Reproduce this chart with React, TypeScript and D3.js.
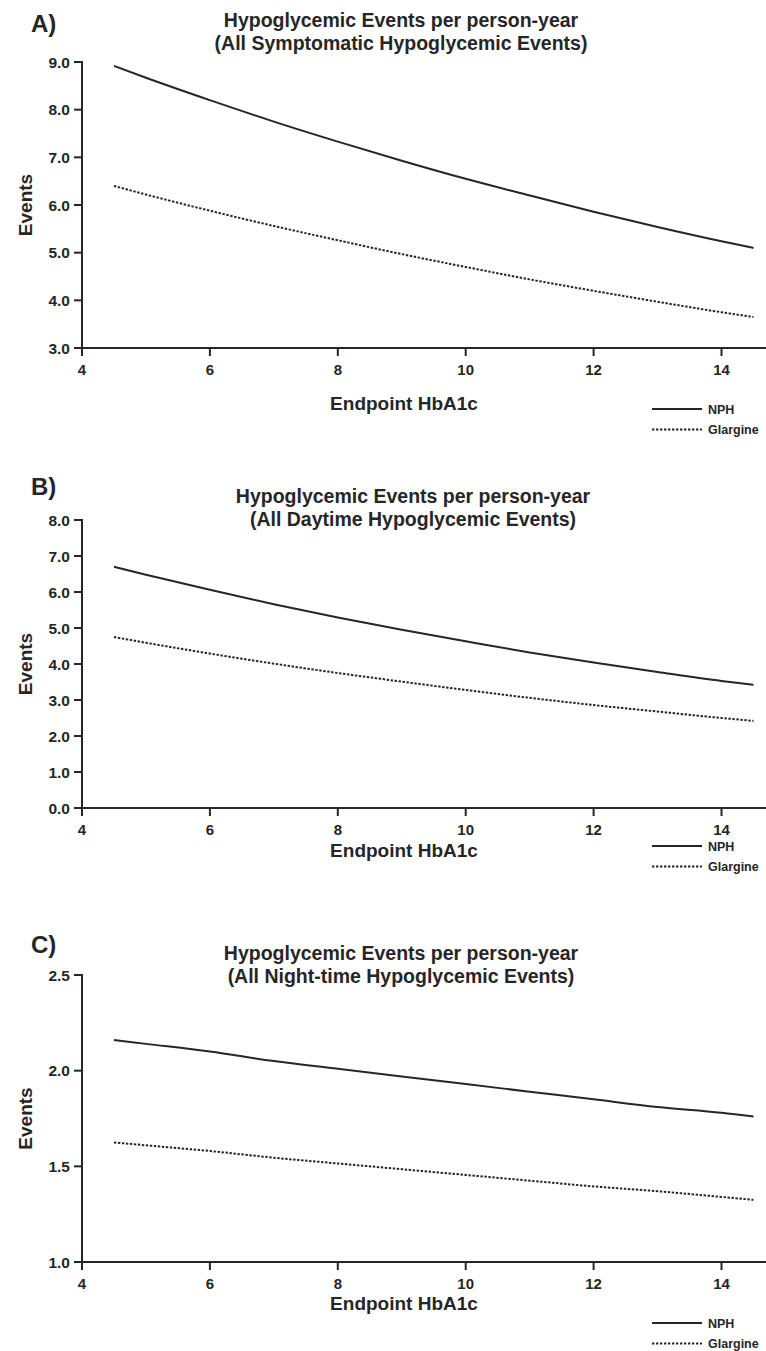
import React from "react";
import * as d3 from "d3";

const hba1c = [4.5, 5, 6, 7, 8, 9, 10, 11, 12, 13, 14, 14.5];

const nphA = [8.92, 8.67, 8.2, 7.75, 7.33, 6.93, 6.55, 6.2, 5.86, 5.54, 5.24, 5.1];
const glarA = [6.4, 6.22, 5.88, 5.56, 5.26, 4.97, 4.7, 4.44, 4.2, 3.97, 3.75, 3.65];
const nphB = [6.7, 6.48, 6.06, 5.66, 5.29, 4.95, 4.63, 4.32, 4.04, 3.78, 3.53, 3.42];
const glarB = [4.75, 4.59, 4.29, 4.01, 3.75, 3.51, 3.28, 3.06, 2.86, 2.68, 2.5, 2.42];
const nphC = [2.16, 2.14, 2.1, 2.05, 2.01, 1.97, 1.93, 1.89, 1.85, 1.81, 1.78, 1.76];
const glarC = [1.625, 1.61, 1.58, 1.545, 1.515, 1.485, 1.455, 1.425, 1.395, 1.37, 1.34, 1.325];

const xTicks = [4, 6, 8, 10, 12, 14];
const yTicksA = [3, 4, 5, 6, 7, 8, 9];
const yTicksB = [0, 1, 2, 3, 4, 5, 6, 7, 8];
const yTicksC = [1, 1.5, 2, 2.5];

const titleLine1 = "Hypoglycemic Events per person-year";
const subtitles = [
  "(All Symptomatic Hypoglycemic Events)",
  "(All Daytime Hypoglycemic Events)",
  "(All Night-time Hypoglycemic Events)",
];
const letters = ["A)", "B)", "C)"];
const seriesNames = ["NPH", "Glargine"];

const FONT = "Liberation Sans, Arial, sans-serif";
const INK = "#262626";

interface PanelProps {
  letter: string;
  subtitle: string;
  nph: number[];
  glar: number[];
  yDomain: [number, number];
  yRange: [number, number];
  yTicks: number[];
  letterY: number;
  titleY: number;
  titleX: number;
  xLabelDy: number;
  legendDy: number;
}

function Panel(p: PanelProps) {
  const x = d3.scaleLinear().domain([4, 14.68]).range([82, 765]);
  const y = d3.scaleLinear().domain(p.yDomain).range(p.yRange);
  const line = d3
    .line<number>()
    .x((_, i) => x(hba1c[i]))
    .y((d) => y(d))
    .curve(d3.curveMonotoneX);
  const y0 = p.yRange[0];
  const y1 = p.yRange[1];
  const x0 = x(4);
  const dash = "2.4,1.6";
  return (
    <g>
      <text x={31} y={p.letterY} fontFamily={FONT} fontWeight="bold" fontSize={24} fill={INK}>
        {p.letter}
      </text>
      <text x={p.titleX} y={p.titleY} textAnchor="middle" fontFamily={FONT} fontWeight="bold" fontSize={19.5} fill={INK}>
        {titleLine1}
      </text>
      <text x={p.titleX} y={p.titleY + 22.5} textAnchor="middle" fontFamily={FONT} fontWeight="bold" fontSize={19.5} fill={INK}>
        {p.subtitle}
      </text>
      <line x1={x0} x2={x0} y1={y1 - 1} y2={y0 + 8} stroke={INK} strokeWidth={2} />
      <line x1={x0} x2={766} y1={y0} y2={y0} stroke={INK} strokeWidth={2} />
      {p.yTicks.map((t) => (
        <g key={"y" + t}>
          <line x1={x0 - 8} x2={x0} y1={y(t)} y2={y(t)} stroke={INK} strokeWidth={2} />
          <text x={x0 - 12} y={y(t) + 5.5} textAnchor="end" fontFamily={FONT} fontWeight="bold" fontSize={15.5} fill={INK}>
            {t.toFixed(1)}
          </text>
        </g>
      ))}
      {xTicks.map((t) => (
        <g key={"x" + t}>
          <line x1={x(t)} x2={x(t)} y1={y0} y2={y0 + 8} stroke={INK} strokeWidth={2} />
          <text x={x(t)} y={y0 + 27} textAnchor="middle" fontFamily={FONT} fontWeight="bold" fontSize={15} fill={INK}>
            {t}
          </text>
        </g>
      ))}
      <text
        transform={`translate(32, ${(y0 + y1) / 2}) rotate(-90)`}
        textAnchor="middle"
        fontFamily={FONT}
        fontWeight="bold"
        fontSize={19}
        fill={INK}
      >
        Events
      </text>
      <text x={404} y={y0 + p.xLabelDy} textAnchor="middle" fontFamily={FONT} fontWeight="bold" fontSize={19} fill={INK}>
        Endpoint HbA1c
      </text>
      <path d={line(p.nph) || ""} fill="none" stroke={INK} strokeWidth={2} />
      <path d={line(p.glar) || ""} fill="none" stroke={INK} strokeWidth={2} strokeDasharray={dash} />
      <line x1={652} x2={702} y1={y0 + p.legendDy} y2={y0 + p.legendDy} stroke={INK} strokeWidth={2} />
      <text x={708} y={y0 + p.legendDy + 4.5} fontFamily={FONT} fontWeight="bold" fontSize={12.5} fill={INK}>
        {seriesNames[0]}
      </text>
      <line x1={652} x2={702} y1={y0 + p.legendDy + 20.5} y2={y0 + p.legendDy + 20.5} stroke={INK} strokeWidth={2} strokeDasharray={dash} />
      <text x={708} y={y0 + p.legendDy + 25} fontFamily={FONT} fontWeight="bold" fontSize={12.5} fill={INK}>
        {seriesNames[1]}
      </text>
    </g>
  );
}

export default function App() {
  return (
    <svg width={766} height={1351} style={{ position: "absolute", left: 0, top: 0, background: "#fff" }}>
      <rect width={766} height={1351} fill="#fff" />
      <Panel letter={letters[0]} subtitle={subtitles[0]} nph={nphA} glar={glarA} yDomain={[3, 9]} yRange={[348, 62]} yTicks={yTicksA}
        letterY={32} titleY={27} titleX={401} xLabelDy={62} legendDy={61} />
      <Panel letter={letters[1]} subtitle={subtitles[1]} nph={nphB} glar={glarB} yDomain={[0, 8]} yRange={[808, 520]} yTicks={yTicksB}
        letterY={495} titleY={503} titleX={413} xLabelDy={49} legendDy={38} />
      <Panel letter={letters[2]} subtitle={subtitles[2]} nph={nphC} glar={glarC} yDomain={[1, 2.5]} yRange={[1262, 975]} yTicks={yTicksC}
        letterY={953} titleY={960} titleX={401} xLabelDy={48} legendDy={61} />
    </svg>
  );
}
